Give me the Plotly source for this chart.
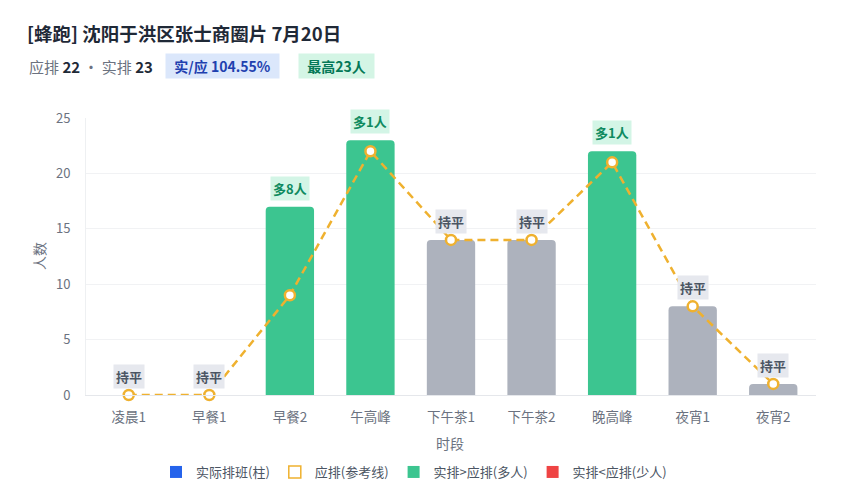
import plotly.graph_objects as go

# --- data ---
slots = ["凌晨1", "早餐1", "早餐2", "午高峰", "下午茶1", "下午茶2", "晚高峰", "夜宵1", "夜宵2"]
actual = [0, 0, 17, 23, 14, 14, 22, 8, 1]      # 实排 (bars)
planned = [0, 0, 9, 22, 14, 14, 21, 8, 1]      # 应排 (reference line)

title_text = "[蜂跑] 沈阳于洪区张士商圈片 7月20日"
planned_total = 22
actual_total = 23
ratio_text = "104.55%"
peak_text = "最高23人"

GREEN = "#3cc590"
GRAY = "#adb2bd"
RED = "#ef4444"
BLUE = "#2563eb"
AMBER = "#efb12f"
FONT = "Noto Sans CJK SC"

# page body has an 8px margin, so the figure is drawn 8px in from the window
OFF = 8
W, H = 848 - 2 * OFF, 500 - 2 * OFF
L, R, T, B = 86 - OFF, 816 - OFF, 118 - OFF, 395 - OFF   # plot area inside the figure

def px(x):
    # window pixel x -> paper x
    return (x - OFF - L) / (R - L)

def py(y):
    # window pixel y -> paper y
    return (B - (y - OFF)) / (B - T)

bar_colors = []
labels = []
for a, p in zip(actual, planned):
    d = a - p
    if d > 0:
        bar_colors.append(GREEN)
        labels.append((f"多{d}人", "#d3f5e6", "#0f8a5f"))
    elif d < 0:
        bar_colors.append(RED)
        labels.append((f"少{-d}人", "#fde2e2", "#b91c1c"))
    else:
        bar_colors.append(GRAY)
        labels.append(("持平", "#e6e8ee", "#4b5563"))

fig = go.Figure()

fig.add_trace(go.Bar(
    x=slots, y=actual,
    marker=dict(color=bar_colors, cornerradius=4, line=dict(width=0)),
    width=0.6,
    showlegend=False,
))

fig.add_trace(go.Scatter(
    x=slots, y=planned,
    mode="lines+markers",
    line=dict(color=AMBER, width=2.5, dash="8px,5px"),
    marker=dict(symbol="circle", size=10, color="white", line=dict(color=AMBER, width=2.5)),
    showlegend=False,
    cliponaxis=False,
))

# legend entries
legend_items = [
    ("实际排班(柱)", "square", BLUE),
    ("应排(参考线)", "square-open", AMBER),
    ("实排>应排(多人)", "square", GREEN),
    ("实排<应排(少人)", "square", RED),
]
for name, sym, col in legend_items:
    fig.add_trace(go.Scatter(
        x=[None], y=[None], mode="markers", name=name,
        marker=dict(symbol=sym, size=12, color=col,
                    line=dict(color=col, width=1.5 if sym == "square-open" else 0)),
    ))

# labels above bars
for s, a, p, (txt, bg, fg) in zip(slots, actual, planned, labels):
    fig.add_annotation(
        x=s, y=max(a, p), text=f"<b>{txt}</b>",
        showarrow=False, yanchor="bottom", yshift=6,
        font=dict(size=13, color=fg, family=FONT),
        bgcolor=bg, borderpad=2,
    )

# axis titles
fig.add_annotation(
    xref="paper", yref="paper", x=px(39), y=py(256), xanchor="center", yanchor="middle",
    text="人数", textangle=-90, showarrow=False,
    font=dict(size=14, color="#6b7280", family=FONT),
)
fig.add_annotation(
    xref="paper", yref="paper", x=px(450), y=py(443), xanchor="center", yanchor="middle",
    text="时段", showarrow=False,
    font=dict(size=14, color="#6b7280", family=FONT),
)

# header
fig.add_annotation(
    xref="paper", yref="paper", x=px(27), y=py(66), xanchor="left", yanchor="middle",
    text=(f"<span style='color:#6b7280'>应排</span> <b>{planned_total}</b> "
          f"<span style='color:#6b7280'>· 实排</span> <b>{actual_total}</b>"),
    showarrow=False, font=dict(size=15, color="#1f2937", family=FONT),
)
fig.add_annotation(
    xref="paper", yref="paper", x=px(165), y=py(66), xanchor="left", yanchor="middle",
    text=f"&nbsp;&nbsp;<b>实/应 {ratio_text}</b>&nbsp;&nbsp;", showarrow=False,
    font=dict(size=14, color="#1e40af", family=FONT),
    bgcolor="#dbe7fb", borderpad=2,
)
fig.add_annotation(
    xref="paper", yref="paper", x=px(298), y=py(66), xanchor="left", yanchor="middle",
    text=f"&nbsp;&nbsp;<b>{peak_text}</b>&nbsp;&nbsp;", showarrow=False,
    font=dict(size=14, color="#047857", family=FONT),
    bgcolor="#d4f5e5", borderpad=2,
)

fig.update_layout(
    width=W, height=H,
    margin=dict(l=L, r=W - R, t=T, b=H - B, autoexpand=False),
    paper_bgcolor="white", plot_bgcolor="white",
    font=dict(family=FONT, color="#6b7280", size=13),
    title=dict(text=f"<b>{title_text}</b>", xref="container", x=(27 - OFF) / W, xanchor="left",
               yref="container", y=1 - (35 - OFF) / H, yanchor="middle",
               font=dict(size=18.5, color="#1f2937", family=FONT)),
    legend=dict(orientation="h", xref="container", x=(156 - OFF) / W, xanchor="left",
                yref="container", y=1 - (472 - OFF) / H, yanchor="middle",
                itemwidth=30,
                font=dict(size=13, color="#4b5563"), itemclick=False),
    xaxis=dict(automargin=False,
               showline=True, linecolor="#e5e7eb", ticks="", showgrid=False,
               ticklabelstandoff=10,
               tickfont=dict(size=13.5, color="#6b7280")),
    yaxis=dict(automargin=False,
               range=[0, 25], dtick=5, showgrid=True, gridcolor="#f1f2f4",
               showline=True, linecolor="#eef0f2", zeroline=False,
               ticklabelstandoff=12,
               tickfont=dict(size=13, color="#6b7280")),
    bargap=0.4,
)

fig.write_html("out.html")
